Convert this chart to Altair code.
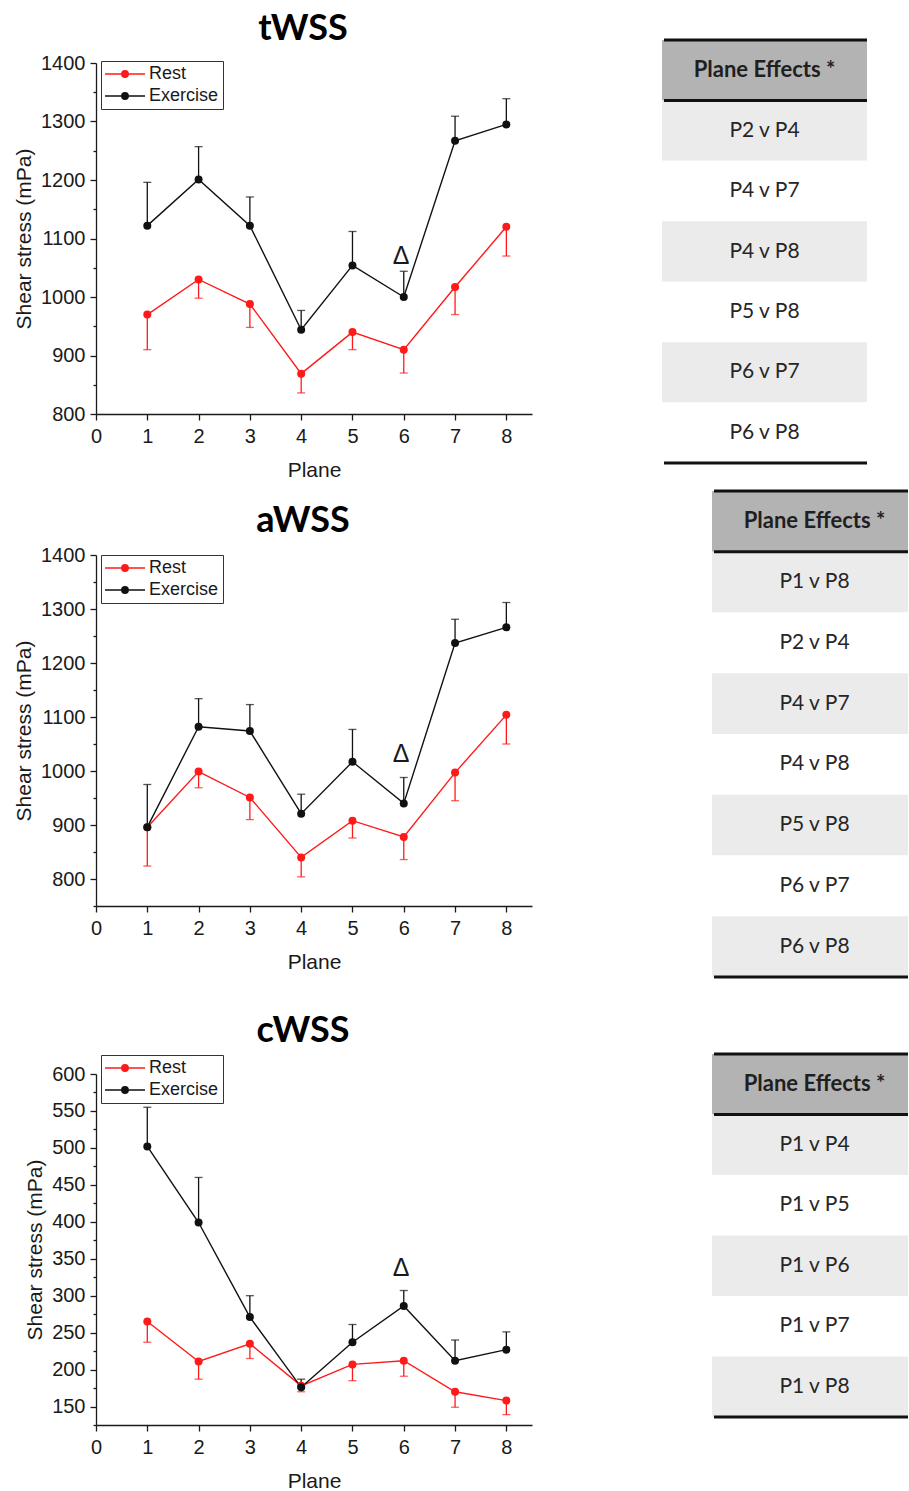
import altair as alt
import pandas as pd

# ---------------- data ----------------
planes = [1, 2, 3, 4, 5, 6, 7, 8]
series_names = ["Rest", "Exercise"]
series_colors = ["#ff1a1a", "#111111"]

panel_titles = ["tWSS", "aWSS", "cWSS"]

twss_rest = [970, 1030, 988, 869, 940, 910, 1017, 1120]
twss_rest_err = [60, 32, 40, 33, 30, 40, 47, 50]
twss_ex = [1122, 1201, 1122, 944, 1054, 1000, 1267, 1295]
twss_ex_err = [74, 56, 49, 33, 58, 44, 42, 44]

awss_rest = [896, 999, 951, 840, 908, 878, 997, 1104]
awss_rest_err = [72, 30, 41, 36, 32, 42, 52, 54]
awss_ex = [896, 1082, 1074, 921, 1017, 940, 1237, 1266]
awss_ex_err = [79, 52, 49, 36, 60, 48, 44, 46]

cwss_rest = [265, 211, 235, 178, 207, 212, 170, 158]
cwss_rest_err = [28, 24, 20, 8, 22, 21, 21, 19]
cwss_ex = [502, 399, 271, 176, 237, 286, 212, 227]
cwss_ex_err = [53, 61, 29, 11, 24, 21, 28, 24]

y_domains = [[800, 1400], [750, 1400], [125, 600]]
y_major_steps = [100, 100, 50]
x_ticks = [0, 1, 2, 3, 4, 5, 6, 7, 8]

delta_plane = [5.95, 5.95, 5.95]
delta_value = [1070, 1031, 338]

table_header = "Plane Effects *"
table1_rows = ["P2 v P4", "P4 v P7", "P4 v P8", "P5 v P8", "P6 v P7", "P6 v P8"]
table2_rows = ["P1 v P8", "P2 v P4", "P4 v P7", "P4 v P8", "P5 v P8", "P6 v P7", "P6 v P8"]
table3_rows = ["P1 v P4", "P1 v P5", "P1 v P6", "P1 v P7", "P1 v P8"]

panels = [
    (twss_rest, twss_rest_err, twss_ex, twss_ex_err),
    (awss_rest, awss_rest_err, awss_ex, awss_ex_err),
    (cwss_rest, cwss_rest_err, cwss_ex, cwss_ex_err),
]

# ---------------- layout / style ----------------
PW, PH = 436, 351
legend_y = [-2, 0, -19]
FONT = "Liberation Sans"
INK = "#1a1a1a"


def circ(r):
    return f"M{-r},0A{r},{r},0,1,0,{r},0A{r},{r},0,1,0,{-r},0"


# legend symbol: a line with a (concentric-stroked, i.e. solid) dot
legend_path = "M-5,0L5,0" + circ(0.8) + circ(0.55) + circ(0.3) + circ(0.1)


def panel(i):
    rest, rest_err, ex, ex_err = panels[i]
    df = pd.DataFrame({
        "plane": planes + planes,
        "series": ["Rest"] * len(planes) + ["Exercise"] * len(planes),
        "value": rest + ex,
        "end": [v - e for v, e in zip(rest, rest_err)] + [v + e for v, e in zip(ex, ex_err)],
    })
    lo, hi = y_domains[i]
    step = y_major_steps[i]
    tick_vals = list(range(lo, hi + 1, step // 2))
    yscale = alt.Scale(domain=[lo, hi], nice=False, zero=False)
    yaxis = alt.Axis(
        values=tick_vals, format="d",
        labelExpr=f"datum.value % {step} == 0 ? datum.label : ''",
        tickSize={"condition": {"test": f"datum.value % {step} != 0", "value": 3}, "value": 6},
        grid=False, domainColor=INK, domainWidth=1.3, tickColor=INK, tickWidth=1.3,
        labelFont=FONT, labelFontSize=20, labelColor=INK, labelPadding=5,
        title="Shear stress (mPa)", titleFont=FONT, titleFontSize=21,
        titleFontWeight="normal", titleColor=INK, titlePadding=6,
    )
    xscale = alt.Scale(domain=[0, 8.5], nice=False, zero=False)
    xaxis = alt.Axis(
        values=x_ticks, labelFlush=False, grid=False, domainColor=INK, domainWidth=1.3,
        tickColor=INK, tickWidth=1.3, tickSize=6, labelFont=FONT, labelFontSize=20,
        labelColor=INK, labelPadding=6, format="d",
        title="Plane", titleFont=FONT, titleFontSize=21, titleFontWeight="normal",
        titleColor=INK, titlePadding=13,
    )

    def X():
        return alt.X("plane:Q", scale=xscale, axis=xaxis)

    def Y(field="value"):
        return alt.Y(f"{field}:Q", scale=yscale, axis=yaxis)

    color = alt.Color(
        "series:N",
        scale=alt.Scale(domain=series_names, range=series_colors),
        legend=alt.Legend(
            title=None, orient="none", legendX=5, legendY=legend_y[i], direction="vertical",
            symbolType=legend_path, symbolSize=64, symbolStrokeWidth=1.5, symbolOffset=11,
            symbolOpacity=1, labelOffset=15, labelFont=FONT, labelFontSize=18, labelColor=INK,
            rowPadding=4, padding=4, strokeColor="#333333", fillColor="white",
            cornerRadius=0,
        ),
    )
    base = alt.Chart(df)
    lines = base.mark_line(strokeWidth=1.4).encode(x=X(), y=Y(), color=color)
    bars = base.mark_rule(strokeWidth=1.3).encode(x=X(), y=Y(), y2="end:Q", color=color)
    caps = base.mark_tick(orient="horizontal", size=8, thickness=1.3).encode(
        x=X(), y=Y("end"), color=color)
    dots = base.mark_circle(size=64, opacity=1).encode(x=X(), y=Y(), color=color)
    ddf = pd.DataFrame({"plane": [delta_plane[i]], "value": [delta_value[i]], "t": ["Δ"]})
    delta = alt.Chart(ddf).mark_text(font=FONT, fontSize=25, color=INK, baseline="middle").encode(
        x=X(), y=Y(), text="t:N")

    return alt.layer(lines, bars, caps, dots, delta).properties(
        width=PW, height=PH,
        title=alt.TitleParams(
            panel_titles[i], font="Lato", fontSize=36, fontWeight="bold", color="black",
            anchor="middle", frame="group", dx=-11, offset=5,
        ),
    )


# ---------------- tables ----------------
TW = 205
fill_scale = alt.Scale(domain=["header", "shade", "plain"], range=["#b3b3b3", "#ebebeb", "#ffffff"])


def table_chart(rows, x0, yr, clip):
    labels = [table_header] + rows
    n = len(labels)
    df = pd.DataFrame({
        "idx": list(range(n)),
        "label": labels,
        "band": ["header"] + ["shade" if k % 2 == 0 else "plain" for k in range(len(rows))],
    })
    ysc = alt.Scale(domain=list(range(n)), range=yr, paddingInner=0, paddingOuter=0)

    def Y(bp=None):
        if bp is None:
            return alt.Y("idx:O", scale=ysc, axis=None)
        return alt.Y("idx:O", scale=ysc, axis=None, bandPosition=bp)

    base = alt.Chart(df)
    rects = base.mark_rect(clip=clip).encode(
        y=Y(), x=alt.value(x0), x2=alt.value(x0 + TW),
        fill=alt.Fill("band:N", scale=fill_scale, legend=None))
    head = base.transform_filter("datum.idx == 0").mark_text(
        font="Lato", fontSize=22, fontWeight="bold", color="#1f1f1f", clip=clip).encode(
        y=Y(), x=alt.value(x0 + TW / 2), text="label:N")
    body = base.transform_filter("datum.idx > 0").mark_text(
        font="Lato", fontSize=21, color="#262626", clip=clip).encode(
        y=Y(), x=alt.value(x0 + TW / 2), text="label:N")
    top_rule = base.transform_filter("datum.idx == 0").mark_rule(
        strokeWidth=3, color="#111111", clip=clip).encode(
        y=Y(0), x=alt.value(x0 + 2), x2=alt.value(x0 + TW))
    bot_rules = base.transform_filter(f"datum.idx == 0 || datum.idx == {n - 1}").mark_rule(
        strokeWidth=3, color="#111111", clip=clip).encode(
        y=Y(1), x=alt.value(x0 + 2), x2=alt.value(x0 + TW))
    return alt.layer(rects, head, body, top_rule, bot_rules)


ORIGIN = 63  # page y of the first plot's top edge (right column origin aligns with it)
tables = alt.layer(
    table_chart(table1_rows, 0, [40 - ORIGIN, 463 - ORIGIN], False),
    table_chart(table2_rows, 50, [491 - ORIGIN, 977 - ORIGIN], True),
    table_chart(table3_rows, 50, [1054 - ORIGIN, 1417 - ORIGIN], True),
).resolve_scale(y="independent").properties(width=246, height=1360)

left = alt.vconcat(
    alt.vconcat(panel(0), panel(1), spacing=23).resolve_scale(color="independent").resolve_legend(color="independent"),
    panel(2),
    spacing=40,
).resolve_scale(color="independent").resolve_legend(color="independent")

chart = alt.hconcat(left, tables, spacing=130).properties(
    padding={"left": 13, "top": 11, "right": 0, "bottom": 0}
).configure_view(stroke=None)

chart.save("out.html", embed_options={"renderer": "svg", "actions": False})
